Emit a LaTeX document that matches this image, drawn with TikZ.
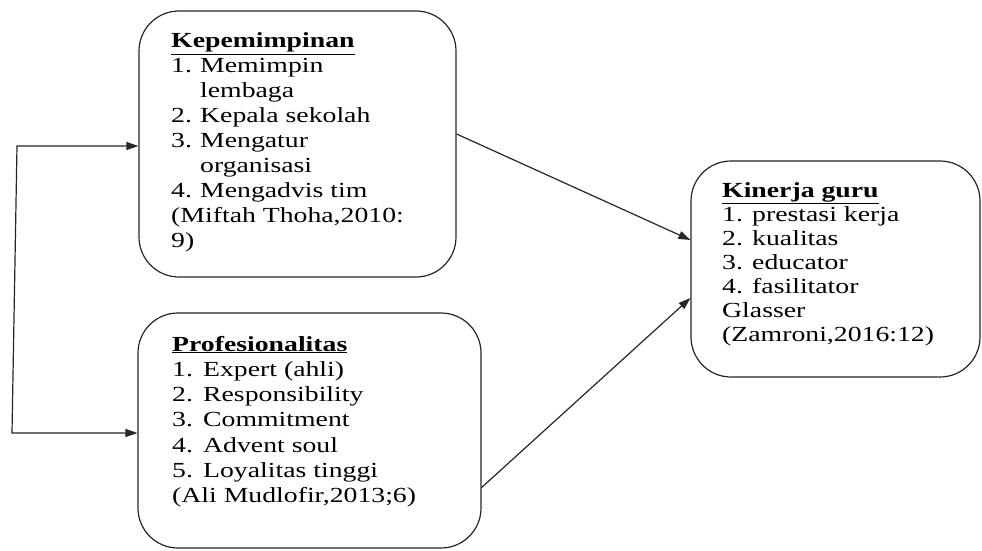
\documentclass[tikz,border=0pt]{standalone}
\usepackage{fontspec}
\setmainfont{Liberation Serif}[FakeStretch=1.29]
\usetikzlibrary{arrows.meta}
\newcommand{\numitem}[2][29pt]{\makebox[#1][l]{#2}}
\tikzset{
  boxnode/.style={draw=black!85, rounded corners=40pt, line width=1.2pt, inner sep=0pt},
  txt/.style={anchor=base west, inner sep=0pt, font=\fontsize{21.5}{25}\selectfont},
  arr/.style={draw=black!85, line width=1.2pt, -{Triangle[length=12pt,width=8pt]}},
  arrboth/.style={draw=black!85, line width=1.2pt, {Triangle[length=12pt,width=8pt]}-{Triangle[length=12pt,width=8pt]}}
}
\begin{document}
\begin{tikzpicture}[x=1pt,y=-1pt]
\useasboundingbox[fill=white] (0,0) rectangle (982,551);
% boxes
\node[boxnode, minimum width=317pt, minimum height=266pt] (k) at (297.5,144) {};
\node[boxnode, minimum width=343pt, minimum height=235pt] (p) at (309.5,430.5) {};
\node[boxnode, minimum width=289pt, minimum height=216pt] (g) at (835.5,269) {};
% texts
\node[txt] (kt) at (171,48) {\parbox[t]{280pt}{\fontsize{21.5}{25}\selectfont
\textbf{\underline{Kepemimpinan}}\\
\numitem{1.}Memimpin\\
\hspace*{29pt}lembaga\\
\numitem{2.}Kepala sekolah\\
\numitem{3.}Mengatur\\
\hspace*{29pt}organisasi\\
\numitem{4.}Mengadvis tim\\
(Miftah Thoha,2010:\\
9)}};
\node[txt] (pt) at (172,351) {\parbox[t]{300pt}{\fontsize{21.5}{25.3}\selectfont
\textbf{\underline{Profesionalitas}}\\
\numitem[31pt]{1.}Expert (ahli)\\
\numitem[31pt]{2.}Responsibility\\
\numitem[31pt]{3.}Commitment\\
\numitem[31pt]{4.}Advent soul\\
\numitem[31pt]{5.}Loyalitas tinggi\\
(Ali Mudlofir,2013;6)}};
\node[txt] (gt) at (722,197) {\parbox[t]{250pt}{\fontsize{21.5}{24}\selectfont
\textbf{\underline{Kinerja guru}}\\
1. prestasi kerja\\
2. kualitas\\
3. educator\\
4. fasilitator\\
Glasser\\
(Zamroni,2016:12)}};
% connectors
\draw[arr] ([yshift=10pt]k.east) -- ([yshift=29pt]g.west);
\draw[arr] ([yshift=-57pt]p.east) -- ([yshift=-29pt]g.west);
\coordinate (c1) at (17,146);
\coordinate (c2) at (12,433);
\draw[arrboth] (c1 -| k.west) -- (c1) -- (c2) -- (c2 -| p.west);
\end{tikzpicture}
\end{document}
